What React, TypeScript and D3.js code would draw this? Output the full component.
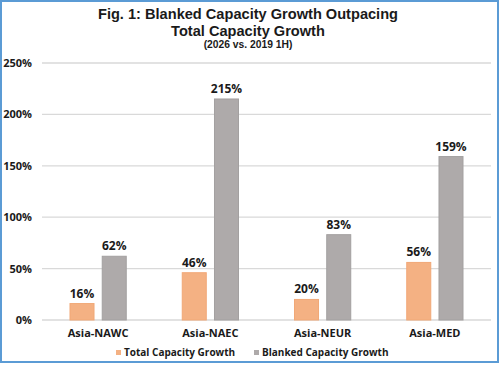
import { useEffect, useRef } from 'react';
import * as d3 from 'd3';

const lanes = ['Asia-NAWC', 'Asia-NAEC', 'Asia-NEUR', 'Asia-MED'];
const seriesNames = ['Total Capacity Growth', 'Blanked Capacity Growth'];
const totalGrowth = [0.16, 0.46, 0.2, 0.56];
const blankedGrowth = [0.62, 2.15, 0.83, 1.59];
const yTicks = [0, 0.5, 1, 1.5, 2, 2.5];
const titleLines = ['Fig. 1: Blanked Capacity Growth Outpacing', 'Total Capacity Growth'];
const subtitle = '(2026 vs. 2019 1H)';

const FILL = ['#F4B183', '#AEAAAA'];
const EDGE = ['#F1A877', '#A3A0A0'];
const FONT = "'Open Sans', 'Noto Sans', sans-serif";
const TITLE_FONT = "'Liberation Sans', Arial, sans-serif";

export default function App() {
  const ref = useRef<SVGSVGElement | null>(null);

  useEffect(() => {
    const width = 500;
    const height = 365;
    const svg = d3.select(ref.current);
    svg.selectAll('*').remove();
    svg.attr('width', width).attr('height', height).style('font-family', FONT);

    svg.append('rect').attr('width', width).attr('height', height).attr('fill', '#fff');
    svg
      .append('rect')
      .attr('x', 1)
      .attr('y', 1)
      .attr('width', width - 3)
      .attr('height', height - 4)
      .attr('fill', 'none')
      .attr('stroke', '#5B9BD5')
      .attr('stroke-width', 2);

    // title block
    const title = svg
      .append('g')
      .attr('text-anchor', 'middle')
      .attr('fill', '#1a1a1a')
      .attr('font-weight', 700)
      .style('font-family', TITLE_FONT);
    title
      .selectAll('text')
      .data(titleLines)
      .join('text')
      .attr('x', 248)
      .attr('y', (_, i) => 19 + i * 16.5)
      .attr('font-size', 14.6)
      .text((d) => d);
    title.append('text').attr('x', 248).attr('y', 48.3).attr('font-size', 10.3).text(subtitle);

    const left = 42;
    const right = 491;
    const y = d3.scaleLinear().domain([0, 2.5]).range([320, 63]);

    const x0 = d3.scaleBand<string>().domain(lanes).range([left, right]).paddingInner(0.49).paddingOuter(0.245);
    const x1 = d3.scaleBand<string>().domain(seriesNames).range([0, x0.bandwidth()]).paddingInner(0.224);

    // gridlines + y labels
    const grid = svg.append('g');
    grid
      .selectAll('line')
      .data(yTicks)
      .join('line')
      .attr('x1', left)
      .attr('x2', right)
      .attr('y1', (d) => y(d))
      .attr('y2', (d) => y(d))
      .attr('stroke', '#D9D9D9')
      .attr('stroke-width', 1.3);
    grid
      .selectAll('text')
      .data(yTicks)
      .join('text')
      .attr('x', 32)
      .attr('y', (d) => y(d) + 4)
      .attr('text-anchor', 'end')
      .attr('font-size', 11)
      .attr('font-weight', 700)
      .attr('fill', '#1a1a1a')
      .text((d) => d3.format('.0%')(d));

    const rows = lanes.map((lane, i) => ({ lane, values: [totalGrowth[i], blankedGrowth[i]] }));

    const groups = svg
      .append('g')
      .selectAll('g')
      .data(rows)
      .join('g')
      .attr('transform', (d) => `translate(${x0(d.lane)},0)`);

    groups
      .selectAll('rect')
      .data((d) => d.values.map((v, k) => ({ v, k })))
      .join('rect')
      .attr('x', (d) => (x1(seriesNames[d.k]) ?? 0) + 0.5)
      .attr('y', (d) => y(d.v))
      .attr('width', x1.bandwidth() - 1)
      .attr('height', (d) => y(0) - y(d.v))
      .attr('fill', (d) => FILL[d.k])
      .attr('stroke', (d) => EDGE[d.k])
      .attr('stroke-width', 1);

    groups
      .selectAll('text')
      .data((d) => d.values.map((v, k) => ({ v, k })))
      .join('text')
      .attr('x', (d) => (x1(seriesNames[d.k]) ?? 0) + x1.bandwidth() / 2)
      .attr('y', (d) => y(d.v) - 6)
      .attr('text-anchor', 'middle')
      .attr('font-size', 12)
      .attr('font-weight', 700)
      .attr('fill', '#1a1a1a')
      .text((d) => d3.format('.0%')(d.v));

    // category labels
    svg
      .append('g')
      .selectAll('text')
      .data(lanes)
      .join('text')
      .attr('x', (d) => (x0(d) ?? 0) + x0.bandwidth() / 2)
      .attr('y', 337)
      .attr('text-anchor', 'middle')
      .attr('font-size', 11)
      .attr('font-weight', 700)
      .attr('fill', '#1a1a1a')
      .text((d) => d);

    // legend
    const legendX = [116, 254];
    const legend = svg
      .append('g')
      .selectAll('g')
      .data(seriesNames)
      .join('g')
      .attr('transform', (_, i) => `translate(${legendX[i]},352.5)`);
    legend
      .append('rect')
      .attr('x', 0)
      .attr('y', -2.5)
      .attr('width', 5)
      .attr('height', 5)
      .attr('fill', (_, i) => FILL[i]);
    legend
      .append('text')
      .attr('x', 8)
      .attr('y', 3.5)
      .attr('font-size', 10)
      .attr('font-weight', 700)
      .attr('fill', '#1a1a1a')
      .text((d) => d);
  }, []);

  return <svg ref={ref} style={{ position: 'absolute', left: 0, top: 0 }} />;
}
